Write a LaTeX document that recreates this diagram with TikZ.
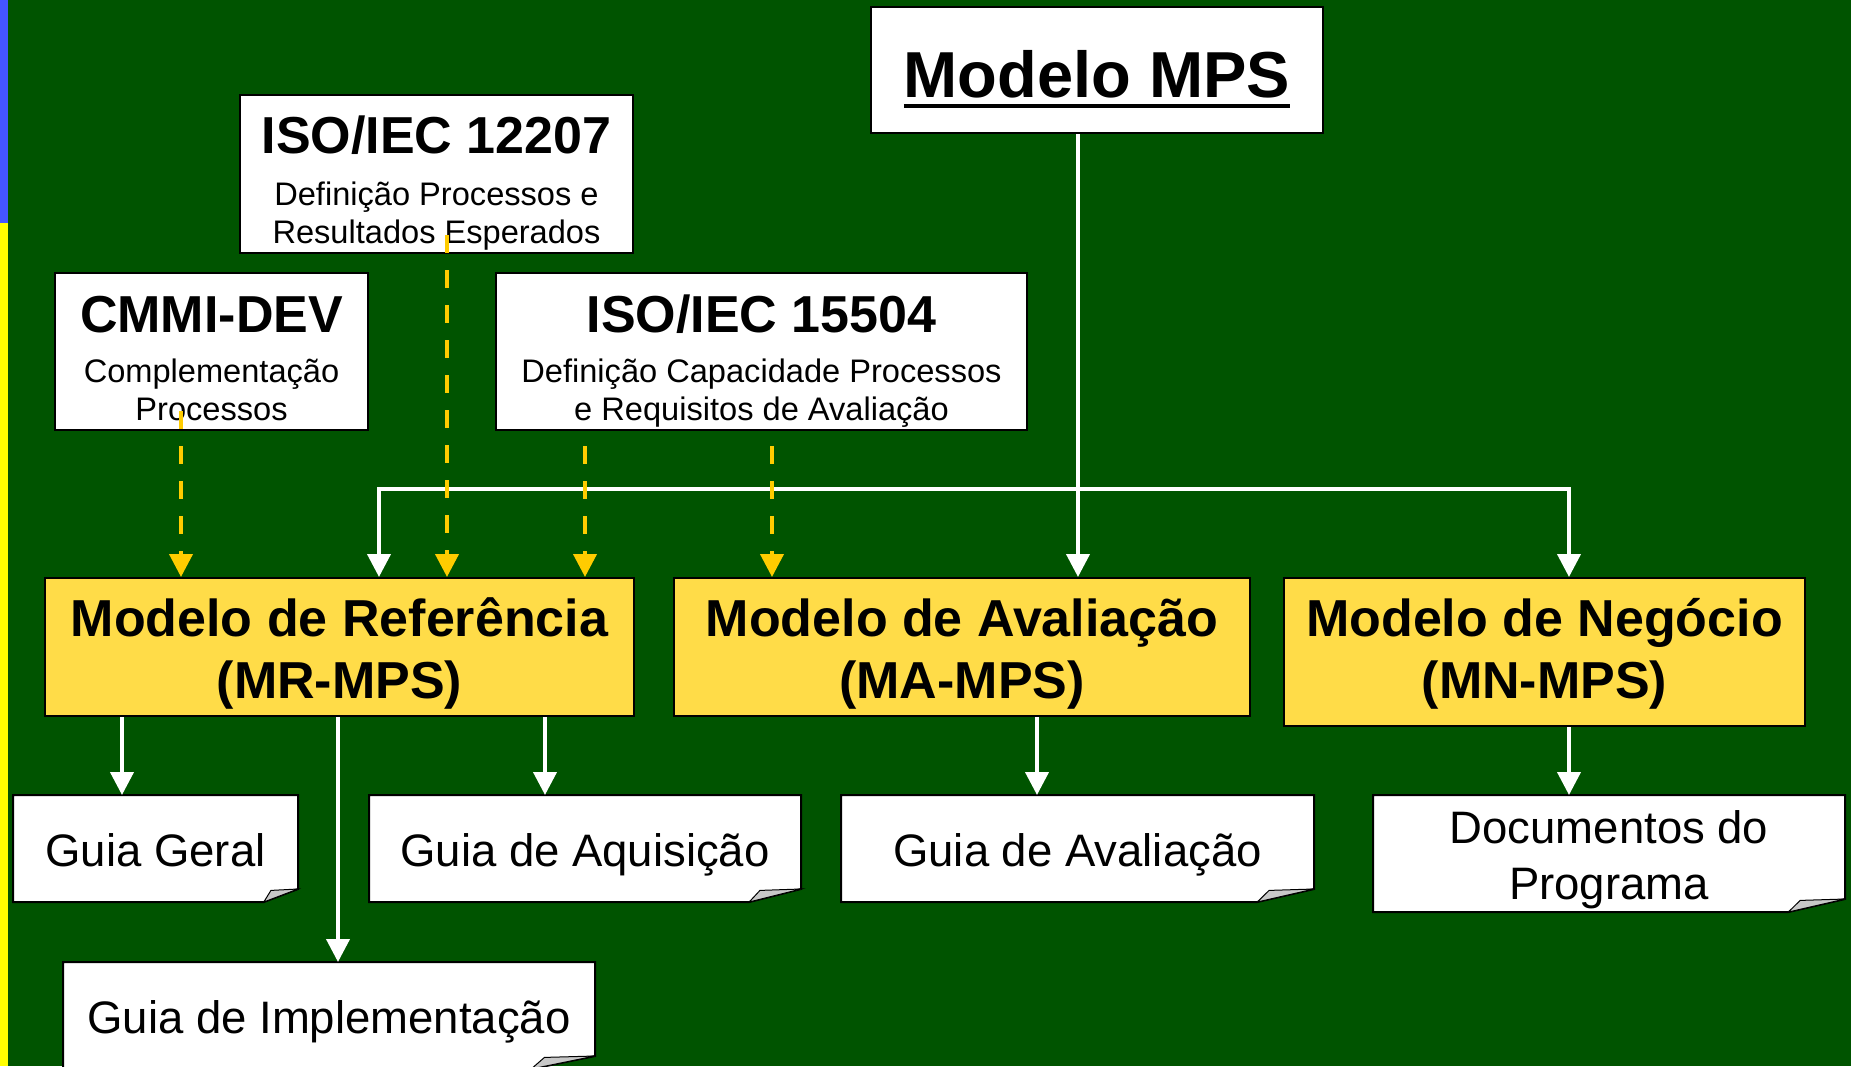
\documentclass[tikz,border=0pt]{standalone}
\usepackage{fontspec}
\setmainfont{Liberation Sans}
\usetikzlibrary{arrows.meta,calc}
\definecolor{bggreen}{HTML}{005400}
\definecolor{stripeblue}{HTML}{4455FF}
\definecolor{stripeyellow}{HTML}{FFFF00}
\definecolor{modelyellow}{HTML}{FFDC48}
\definecolor{dashyellow}{HTML}{FFCC00}
\definecolor{foldgray}{HTML}{C8C8C8}
\pgfdeclarelayer{background}
\pgfsetlayers{background,main}
\newcommand{\mpsfont}{\fontsize{32.5pt}{39pt}\selectfont\bfseries}
\newcommand{\normtitle}{\fontsize{26pt}{31pt}\selectfont\bfseries}
\newcommand{\normsub}{\fontsize{16.3pt}{19pt}\selectfont}
\newcommand{\guidefont}{\fontsize{22.75pt}{28pt}\selectfont}
\newcommand{\thickunder}[1]{\setbox0\hbox{#1}\rlap{\rule[-5.5pt]{\wd0}{2pt}}\box0}
\newcommand{\guidepage}[1]{%
    \filldraw[pagebox] (#1.north west) -- (#1.north east) -- ([yshift=6.5pt]#1.south east)
        -- ($(#1.south east)!0.12!(#1.south west)$) -- (#1.south west) -- cycle;
    \filldraw[pagefold] ([yshift=6.5pt]#1.south east)
        -- ($(#1.south east)!0.095!(#1.south west)+(0,-11.6)$)
        -- ($(#1.south east)!0.12!(#1.south west)$) -- cycle;}
\tikzstyle{whitebox}=[draw=black, fill=white, line width=1pt, inner sep=0pt, align=center, font=\normsub]
\tikzstyle{modelbox}=[draw=black, fill=modelyellow, line width=1pt, inner sep=0pt, align=center, font=\normtitle]
\tikzstyle{pagenode}=[inner sep=0pt, outer sep=0pt, align=center, font=\guidefont, minimum height=53.5pt]
\tikzstyle{pageline}=[pagenode, text height=18.2pt, text depth=0pt]
\tikzstyle{pagebox}=[draw=black, fill=white, line width=1pt]
\tikzstyle{pagefold}=[draw=black, fill=foldgray, line width=0.5pt]
\tikzstyle{wline}=[white, line width=2pt, -{Triangle[width=11.5pt,length=11.5pt]}]
\tikzstyle{yline}=[dashyellow, line width=2pt, dash pattern=on 9pt off 8.5pt, -{Triangle[width=11.5pt,length=11.5pt]}]

\begin{document}
\begin{tikzpicture}[x=0.5pt, y=-0.5pt]
% Background
\begin{pgfonlayer}{background}
    \fill[bggreen] (0,0) rectangle (1851,1066);
    \fill[stripeblue] (0,0) rectangle (8,223);
    \fill[stripeyellow] (0,223) rectangle (8,1066);
\end{pgfonlayer}
\useasboundingbox (0,0) rectangle (1851,1066);
% Standards
    \node[whitebox, font=\mpsfont, minimum width=226pt, minimum height=63pt, text height=27pt, text depth=0pt] (mps) at (1097,70) {\thickunder{Modelo MPS}};
    \node[whitebox, minimum width=196.5pt, minimum height=79pt] (iso12207) at (436.5,174)
        {{\normtitle\rule{0pt}{27.5pt}ISO/IEC 12207}\\[7pt]Definição Processos e\\Resultados Esperados};
    \node[whitebox, minimum width=156.5pt, minimum height=78.5pt] (cmmi) at (211.5,351.5)
        {{\normtitle\rule{0pt}{24.75pt}CMMI-DEV}\\[6pt]Complementação\\Processos};
    \node[whitebox, minimum width=265.5pt, minimum height=78.5pt] (iso15504) at (761.5,351.5)
        {{\normtitle\rule{0pt}{28pt}ISO/IEC 15504}\\[6pt]Definição Capacidade Processos\\e Requisitos de Avaliação};
% Models
    \node[modelbox, minimum width=294.5pt, minimum height=69pt] (mr) at (339.5,647) {\rule{0pt}{25.5pt}Modelo de Referência\\(MR-MPS)};
    \node[modelbox, minimum width=288pt, minimum height=69pt] (ma) at (962,647) {\rule{0pt}{25.5pt}Modelo de Avaliação\\(MA-MPS)};
    \node[modelbox, minimum width=260.5pt, minimum height=74pt] (mn) at (1544.5,652) {\rule{0pt}{21pt}Modelo de Negócio\\(MN-MPS)};
% Guides
    \node[pageline, minimum width=142.5pt] (geral) at (155.5,848.5) {Guia Geral};
    \node[pageline, minimum width=216pt] (aquis) at (585,848.5) {Guia de Aquisição};
    \node[pageline, minimum width=236.5pt] (avali) at (1077.5,848.5) {Guia de Avaliação};
    \node[pagenode, minimum width=236pt, minimum height=58.5pt] (docs) at (1609,853.5) {\rule{0pt}{22.3pt}Documentos do\\Programa};
    \node[pageline, minimum width=266pt] (impl) at (329,1015.5) {Guia de Implementação};
\begin{pgfonlayer}{background}
    \guidepage{geral}
    \guidepage{aquis}
    \guidepage{avali}
    \guidepage{docs}
    \guidepage{impl}
\end{pgfonlayer}
% Links from Modelo MPS
    \coordinate (bus) at (0,489);
    \draw[wline] (mps.south -| 1078,0) -- (ma.north -| 1078,0);
    \draw[wline] (bus -| 1078,0) -| (mr.north -| 379,0);
    \draw[wline] (bus -| 1078,0) -| (mn.north -| 1569,0);
% Links to the guides
    \draw[wline] (mr.south -| 122,0) -- (geral.north -| 122,0);
    \draw[wline] (mr.south -| 338,0) -- (impl.north -| 338,0);
    \draw[wline] (mr.south -| 545,0) -- (aquis.north -| 545,0);
    \draw[wline] (ma.south -| 1037,0) -- (avali.north -| 1037,0);
    \draw[wline] (mn.south -| 1569,0) -- (docs.north -| 1569,0);
% Standards feeding the models
    \draw[yline] ([yshift=10pt]cmmi.south -| 181,0) -- (mr.north -| 181,0);
    \draw[yline] ([yshift=9.5pt]iso12207.south -| 447,0) -- (mr.north -| 447,0);
    \draw[yline] ([yshift=-7.5pt]iso15504.south -| 585,0) -- (mr.north -| 585,0);
    \draw[yline] ([yshift=-7.5pt]iso15504.south -| 772,0) -- (ma.north -| 772,0);
\end{tikzpicture}
\end{document}
